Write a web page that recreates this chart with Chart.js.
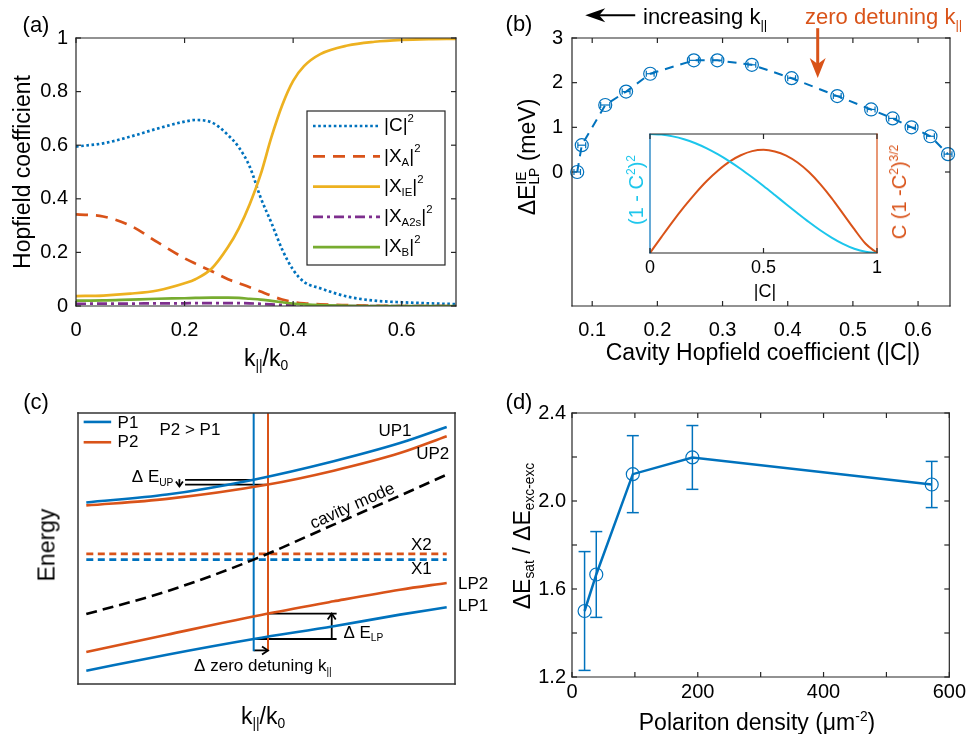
<!DOCTYPE html>
<html>
<head>
<meta charset="utf-8">
<title>Hopfield coefficients and polariton shifts</title>
<script src="https://cdn.jsdelivr.net/npm/chart.js@4.4.1/dist/chart.umd.min.js"></script>
<style>
  body { margin: 0; background: #fff; }
  #fig { position: relative; width: 969px; height: 734px; overflow: hidden;
         font-family: 'Liberation Sans', Arial, sans-serif; color: #000; }
  #fig canvas { position: absolute; }
  .t, .v, .l { position: absolute; white-space: nowrap; line-height: 1; }
  .t { transform: translate(-50%, -50%); }
  .l { transform: translate(0, -50%); }
  .v { transform: translate(-50%, -50%) rotate(-90deg); }
  sub, sup { font-size: 60%; line-height: 0; }
  sub { vertical-align: -0.35em; }
  sup { vertical-align: 0.65em; }
  .stk { display: inline-block; vertical-align: -0.3em; font-size: 60%; line-height: 0.95; }
  .stk span { display: block; }
</style>
</head>
<body>
<div id="fig">
  <canvas id="ca" width="480" height="372" style="left:0;top:0"></canvas>
  <canvas id="cb" width="489" height="372" style="left:480px;top:0"></canvas>
  <canvas id="cin" width="300" height="180" style="left:600px;top:120px"></canvas>
  <canvas id="cc" width="500" height="362" style="left:0;top:372px"></canvas>
  <canvas id="cd" width="489" height="362" style="left:480px;top:372px"></canvas>

  <!-- (a) -->
  <div class="t" style="left:36px;top:25px;font-size:22px">(a)</div>
  <div class="v" style="left:22px;top:172px;font-size:23px">Hopfield coefficient</div>
  <div class="t" style="left:266px;top:358px;font-size:23px">k<sub>||</sub>/k<sub>0</sub></div>

  <!-- (b) -->
  <div class="t" style="left:519px;top:24px;font-size:22px">(b)</div>
  <div class="l" style="left:643px;top:17px;font-size:22px">increasing k<sub>||</sub></div>
  <div class="l" style="left:805px;top:17px;font-size:22px;color:#D95319">zero detuning k<sub>||</sub></div>
  <div class="v" style="left:528px;top:157px;font-size:23px">ΔE<span class="stk"><span>IE</span><span>LP</span></span> (meV)</div>
  <div class="t" style="left:763px;top:352px;font-size:23px">Cavity Hopfield coefficient (|C|)</div>
  <div class="v" style="left:636px;top:190px;font-size:20px;color:#1CC6EC">(1 - C<sup>2</sup>)<sup>2</sup></div>
  <div class="v" style="left:899px;top:192px;font-size:20px;color:#D95319">C (1 -C<sup>2</sup>)<sup>3/2</sup></div>
  <div class="t" style="left:765px;top:291px;font-size:18px">|C|</div>

  <!-- (c) -->
  <div class="t" style="left:36px;top:402px;font-size:22px">(c)</div>
  <div class="v" style="left:47px;top:545px;font-size:23px">Energy</div>
  <div class="t" style="left:263px;top:716px;font-size:23px">k<sub>||</sub>/k<sub>0</sub></div>

  <!-- (d) -->
  <div class="t" style="left:519px;top:402px;font-size:22px">(d)</div>
  <div class="v" style="left:522px;top:536px;font-size:23px">ΔE<sub>sat</sub> / ΔE<sub>exc-exc</sub></div>
  <div class="t" style="left:757px;top:722px;font-size:23px">Polariton density (μm<sup>-2</sup>)</div>
</div>

<script>
// ---------- (a) Hopfield coefficients vs k||/k0 ----------
const kPar   = [0, 0.05, 0.10, 0.15, 0.20, 0.22, 0.25, 0.28, 0.30, 0.32, 0.34, 0.36, 0.38, 0.40, 0.42, 0.45, 0.50, 0.55, 0.60, 0.65, 0.70];
const cav2   = [0.595, 0.607, 0.632, 0.662, 0.688, 0.694, 0.685, 0.638, 0.592, 0.52, 0.405, 0.31, 0.21, 0.135, 0.09, 0.066, 0.035, 0.02, 0.014, 0.01, 0.007];
const exA2   = [0.342, 0.334, 0.30, 0.238, 0.178, 0.158, 0.13, 0.10, 0.085, 0.07, 0.054, 0.038, 0.024, 0.015, 0.01, 0.006, 0.003, 0.001, 0, 0, 0];
const exIE2  = [0.037, 0.039, 0.046, 0.058, 0.085, 0.10, 0.14, 0.22, 0.29, 0.38, 0.49, 0.63, 0.75, 0.84, 0.895, 0.94, 0.972, 0.986, 0.993, 0.996, 0.997];
const exA2s2 = [0.008, 0.009, 0.009, 0.01, 0.01, 0.011, 0.011, 0.011, 0.011, 0.01, 0.008, 0.006, 0.004, 0.003, 0.002, 0.001, 0, 0, 0, 0, 0];
const exB2   = [0.02, 0.021, 0.024, 0.027, 0.029, 0.03, 0.031, 0.031, 0.03, 0.027, 0.024, 0.019, 0.014, 0.009, 0.006, 0.003, 0.001, 0, 0, 0, 0];
const aTicksX = [0, 0.2, 0.4, 0.6], aLabelsX = ['0', '0.2', '0.4', '0.6'];
const aTicksY = [0, 0.2, 0.4, 0.6, 0.8, 1], aLabelsY = ['0', '0.2', '0.4', '0.6', '0.8', '1'];

// ---------- (b) LP shift vs cavity Hopfield coefficient ----------
const hopC     = [0.077, 0.084, 0.120, 0.152, 0.189, 0.256, 0.292, 0.345, 0.406, 0.476, 0.528, 0.561, 0.590, 0.619, 0.646];
const shiftLP  = [0, 0.6, 1.5, 1.8, 2.2, 2.5, 2.5, 2.4, 2.1, 1.7, 1.4, 1.2, 1.0, 0.8, 0.4];
const hopCErr  = [0.005, 0.006, 0.007, 0.006, 0.006, 0.007, 0.007, 0.006, 0.006, 0.006, 0.006, 0.006, 0.006, 0.006, 0.006];
const bTicksX = [0.1, 0.2, 0.3, 0.4, 0.5, 0.6], bLabelsX = ['0.1', '0.2', '0.3', '0.4', '0.5', '0.6'];
const bTicksY = [0, 1, 2, 3], bLabelsY = ['0', '1', '2', '3'];

// inset
const insC     = [0, 0.05, 0.10, 0.15, 0.20, 0.25, 0.30, 0.35, 0.40, 0.45, 0.50, 0.55, 0.60, 0.65, 0.70, 0.75, 0.80, 0.85, 0.90, 0.95, 1];
const insExc   = [1, 0.995, 0.980, 0.956, 0.922, 0.879, 0.828, 0.770, 0.706, 0.636, 0.563, 0.487, 0.410, 0.334, 0.260, 0.191, 0.130, 0.077, 0.036, 0.010, 0];
const insMix   = [0, 0.050, 0.099, 0.145, 0.188, 0.227, 0.260, 0.288, 0.308, 0.321, 0.325, 0.320, 0.307, 0.285, 0.255, 0.217, 0.173, 0.124, 0.075, 0.029, 0];
const insTicksX = [0, 0.5, 1], insLabelsX = ['0', '0.5', '1'];

// ---------- (c) schematic dispersions (arbitrary units) ----------
const kP1 = [0.22, 2.36, 4.66, 6.78, 8.54, 9.78];
const kP2 = [0.22, 2.36, 5.04, 6.78, 8.54, 9.78];
const up1 = [6.70, 6.99, 7.54, 8.22, 8.89, 9.48];
const up2 = [6.59, 6.83, 7.36, 7.87, 8.52, 9.14];
const lp1 = [0.49, 1.08, 1.66, 2.13, 2.56, 2.83];
const lp2 = [1.18, 1.82, 2.60, 3.05, 3.48, 3.73];
const kCav = [0.22, 2.36, 4.66, 6.78, 8.54, 9.82];
const cavMode = [2.58, 3.42, 4.59, 5.88, 6.95, 7.75];
const kEx = [0.22, 9.78];
const ex1 = 4.59, ex2 = 4.80;
const kZero1 = 4.66, kZero2 = 5.04;
const eRange = [1.21, 10];

// ---------- (d) saturation ratio vs density ----------
const density = [20, 38.6, 96.7, 191.4, 572];
const ratio   = [1.50, 1.666, 2.122, 2.198, 2.075];
const ratioErr = [0.27, 0.195, 0.175, 0.145, 0.105];
const dTicksX = [0, 100, 200, 300, 400, 500, 600], dLabelsX = ['0', '', '200', '', '400', '', '600'];
const dTicksY = [1.2, 1.4, 1.6, 1.8, 2.0, 2.2, 2.4], dLabelsY = ['1.2', '', '1.6', '', '2.0', '', '2.4'];

const BLUE = '#0072BD', ORANGE = '#D95319', YELLOW = '#EDB120', PURPLE = '#7E2F8E',
      GREEN = '#77AC30', CYAN = '#1CC6EC', AX = '#262626';
const FAM = "'Liberation Sans', Arial, sans-serif";

Chart.defaults.font.family = FAM;
Chart.defaults.color = '#000';

const xy = (xs, ys) => xs.map((x, i) => ({ x, y: Array.isArray(ys) ? ys[i] : ys }));

function seg(ctx, x1, y1, x2, y2) {
  ctx.beginPath(); ctx.moveTo(x1, y1); ctx.lineTo(x2, y2); ctx.stroke();
}

// text with sub ('b') and superscript ('p') pieces
function rich(ctx, parts, x, y, size, align, color) {
  ctx.save();
  ctx.fillStyle = color || '#000';
  ctx.textBaseline = 'middle';
  ctx.textAlign = 'left';
  let w = 0;
  const items = parts.map(p => {
    const s = p[1] ? size * 0.6 : size;
    ctx.font = s + 'px ' + FAM;
    const m = ctx.measureText(p[0]).width;
    w += m;
    return { t: p[0], s, m, dy: p[1] === 'b' ? size * 0.32 : p[1] === 'p' ? -size * 0.38 : 0 };
  });
  let cx = align === 'center' ? x - w / 2 : align === 'right' ? x - w : x;
  items.forEach(it => { ctx.font = it.s + 'px ' + FAM; ctx.fillText(it.t, cx, y + it.dy); cx += it.m; });
  ctx.restore();
}

// axis box keeps a fixed thickness so the plot area lands where it should
function axis(min, max, ticks, labels, pad, size, pos, thick) {
  return {
    type: 'linear', position: pos, min, max,
    grid: { display: false, drawTicks: false }, border: { display: false },
    afterBuildTicks: s => { s.ticks = ticks.map(v => ({ value: v })); },
    afterFit: s => { if (s.isHorizontal()) s.height = thick; else s.width = thick; },
    ticks: { padding: pad, font: { size }, color: '#000', autoSkip: false, maxRotation: 0,
             callback: (v, i) => labels[i] }
  };
}
function hidden(min, max, pos) {
  return { type: 'linear', display: false, min, max, position: pos };
}
// a = [left, top, right, bottom]; axL / axB = thickness given to the left / bottom axis
function lay(w, h, a, axL, axB) {
  return { padding: { left: a[0] - axL, top: a[1], right: w - a[2], bottom: h - a[3] - axB } };
}
function opts(extra) {
  return Object.assign({
    responsive: false, animation: false, events: [],
    plugins: { legend: { display: false }, tooltip: { enabled: false } },
    elements: { point: { radius: 0 }, line: { tension: 0.4, cubicInterpolationMode: 'monotone', fill: false } }
  }, extra);
}

function makeFrame(cfg) {
  return { id: 'frame', afterDatasetsDraw(chart) {
    const { ctx, chartArea: a } = chart;
    const L = cfg.tick || 0, col = cfg.color || AX, s = cfg.sides || {};
    ctx.save();
    ctx.lineWidth = cfg.width || 1.2; ctx.setLineDash([]); ctx.lineCap = 'square';
    ctx.strokeStyle = s.top || col;    seg(ctx, a.left, a.top, a.right, a.top);
    ctx.strokeStyle = s.bottom || col; seg(ctx, a.left, a.bottom, a.right, a.bottom);
    ctx.strokeStyle = s.left || col;   seg(ctx, a.left, a.top, a.left, a.bottom);
    ctx.strokeStyle = s.right || col;  seg(ctx, a.right, a.top, a.right, a.bottom);
    ctx.strokeStyle = col; ctx.lineCap = 'butt';
    if (L && cfg.xt) cfg.xt.forEach(v => {
      const p = chart.scales.x.getPixelForValue(v);
      seg(ctx, p, a.bottom, p, a.bottom - L); seg(ctx, p, a.top, p, a.top + L);
    });
    if (L && cfg.yt) cfg.yt.forEach(v => {
      const p = chart.scales.y.getPixelForValue(v);
      seg(ctx, a.left, p, a.left + L, p); seg(ctx, a.right, p, a.right - L, p);
    });
    ctx.restore();
  } };
}

function makeErr(xs, ys, xerr, yerr, cap, color, width) {
  return { id: 'errbars', afterDatasetsDraw(chart) {
    const { ctx } = chart, sx = chart.scales.x, sy = chart.scales.y;
    ctx.save(); ctx.strokeStyle = color; ctx.lineWidth = width; ctx.setLineDash([]);
    xs.forEach((xv, i) => {
      const px = sx.getPixelForValue(xv), py = sy.getPixelForValue(ys[i]);
      if (yerr) {
        const t = sy.getPixelForValue(ys[i] + yerr[i]), b = sy.getPixelForValue(ys[i] - yerr[i]);
        seg(ctx, px, t, px, b); seg(ctx, px - cap, t, px + cap, t); seg(ctx, px - cap, b, px + cap, b);
      }
      if (xerr) {
        const l = sx.getPixelForValue(xv - xerr[i]), r = sx.getPixelForValue(xv + xerr[i]);
        seg(ctx, l, py, r, py); seg(ctx, l, py - cap, l, py + cap); seg(ctx, r, py - cap, r, py + cap);
      }
    });
    ctx.restore();
  } };
}

// filled arrow head with a notch, tip at (x,y), pointing along ang
function headFilled(ctx, x, y, ang, len, half, color) {
  ctx.save(); ctx.translate(x, y); ctx.rotate(ang); ctx.fillStyle = color;
  ctx.beginPath(); ctx.moveTo(0, 0); ctx.lineTo(-len, -half); ctx.lineTo(-len * 0.7, 0); ctx.lineTo(-len, half);
  ctx.closePath(); ctx.fill(); ctx.restore();
}
function headOpen(ctx, x, y, ang, len, half) {
  ctx.save(); ctx.translate(x, y); ctx.rotate(ang);
  ctx.beginPath(); ctx.moveTo(-len, -half); ctx.lineTo(0, 0); ctx.lineTo(-len, half); ctx.stroke();
  ctx.restore();
}

// ================= (a) =================
const legendA = [
  [['|C|', ''], ['2', 'p']],
  [['|X', ''], ['A', 'b'], ['|', ''], ['2', 'p']],
  [['|X', ''], ['IE', 'b'], ['|', ''], ['2', 'p']],
  [['|X', ''], ['A2s', 'b'], ['|', ''], ['2', 'p']],
  [['|X', ''], ['B', 'b'], ['|', ''], ['2', 'p']]
];
const legendPluginA = { id: 'legendA', afterDatasetsDraw(chart) {
  const { ctx, chartArea: a } = chart;
  const L = a.right - 149, T = a.top + 73, W = 138, H = 154;
  ctx.save();
  ctx.fillStyle = '#fff'; ctx.fillRect(L, T, W, H);
  ctx.strokeStyle = AX; ctx.lineWidth = 1.2; ctx.strokeRect(L, T, W, H);
  chart.data.datasets.forEach((ds, i) => {
    const y = T + 15 + i * 30.3;
    ctx.strokeStyle = ds.borderColor; ctx.lineWidth = ds.borderWidth;
    ctx.setLineDash(ds.borderDash || []);
    seg(ctx, L + 6, y, L + 73, y);
    ctx.setLineDash([]);
    rich(ctx, legendA[i], L + 77, y, 19, 'left');
  });
  ctx.restore();
} };

const aSeries = [
  { d: cav2, c: BLUE, dash: [2.6, 2.6] },
  { d: exA2, c: ORANGE, dash: [12, 8] },
  { d: exIE2, c: YELLOW, dash: [] },
  { d: exA2s2, c: PURPLE, dash: [10, 4, 3, 4] },
  { d: exB2, c: GREEN, dash: [] }
];
new Chart(document.getElementById('ca'), {
  type: 'line',
  data: { datasets: aSeries.map((s, i) => ({
    data: xy(kPar, s.d), borderColor: s.c, borderDash: s.dash, borderWidth: 2.7, order: -i
  })) },
  options: opts({
    layout: lay(480, 372, [76, 38, 456, 306], 70, 40),
    scales: {
      x: axis(0, 0.7, aTicksX, aLabelsX, 12, 20, 'bottom', 40),
      y: axis(0, 1, aTicksY, aLabelsY, 8, 20, 'left', 70)
    }
  }),
  plugins: [makeFrame({ tick: 5, xt: aTicksX, yt: aTicksY }), legendPluginA]
});

// ================= (b) =================
const arrowsB = { id: 'arrowsB', afterDraw(chart) {
  const { ctx } = chart, sx = chart.scales.x, sy = chart.scales.y;
  ctx.save();
  // "increasing k" arrow
  const y0 = sy.getPixelForValue(3.51), xa = sx.getPixelForValue(0.0893), xb = sx.getPixelForValue(0.166);
  ctx.strokeStyle = '#000'; ctx.lineWidth = 2;
  seg(ctx, xa + 12, y0, xb, y0);
  headFilled(ctx, xa, y0, Math.PI, 20, 7, '#000');
  // zero detuning arrow
  const xo = sx.getPixelForValue(0.446), yt = sy.getPixelForValue(3.22), yb = sy.getPixelForValue(2.105);
  ctx.strokeStyle = ORANGE; ctx.lineWidth = 3;
  seg(ctx, xo, yt, xo, yb - 14);
  headFilled(ctx, xo, yb, Math.PI / 2, 20, 8, ORANGE);
  ctx.restore();
} };

new Chart(document.getElementById('cb'), {
  type: 'line',
  data: { datasets: [{
    data: xy(hopC, shiftLP), borderColor: BLUE, borderDash: [9, 7], borderWidth: 2,
    tension: 0, cubicInterpolationMode: 'default',
    pointRadius: 6.5, pointStyle: 'circle', pointBorderColor: BLUE, pointBackgroundColor: 'rgba(0,0,0,0)',
    pointBorderWidth: 1.2, clip: false
  }] },
  options: opts({
    layout: lay(489, 372, [92, 38, 470, 306], 40, 40),
    scales: {
      x: axis(0.069, 0.649, bTicksX, bLabelsX, 12, 20, 'bottom', 40),
      y: axis(-3, 3, bTicksY, bLabelsY, 9, 20, 'left', 40)
    }
  }),
  plugins: [makeFrame({ tick: 5, xt: bTicksX, yt: bTicksY }), makeErr(hopC, shiftLP, hopCErr, null, 3, BLUE, 1.2), arrowsB]
});

// inset
new Chart(document.getElementById('cin'), {
  type: 'line',
  data: { datasets: [
    { data: xy(insC, insExc), borderColor: CYAN, borderWidth: 2, yAxisID: 'y' },
    { data: xy(insC, insMix), borderColor: ORANGE, borderWidth: 2, yAxisID: 'y2' }
  ] },
  options: opts({
    layout: lay(300, 180, [50, 14, 277, 133], 0, 30),
    scales: {
      x: axis(0, 1, insTicksX, insLabelsX, 4, 18, 'bottom', 30),
      y: hidden(0, 1, 'left'),
      y2: hidden(0, 0.375, 'right')
    }
  }),
  plugins: [
    { id: 'bg', beforeDatasetsDraw(chart) {
      const a = chart.chartArea; chart.ctx.save(); chart.ctx.fillStyle = '#fff';
      chart.ctx.fillRect(a.left, a.top, a.right - a.left, a.bottom - a.top); chart.ctx.restore();
    } },
    makeFrame({ tick: 5, xt: insTicksX, sides: { left: BLUE, right: ORANGE } })
  ]
});

// ================= (c) =================
const annC = { id: 'annC', afterDatasetsDraw(chart) {
  const { ctx } = chart, sx = chart.scales.x, sy = chart.scales.y;
  const X = v => sx.getPixelForValue(v), Y = v => sy.getPixelForValue(v);
  ctx.save();
  // legend samples
  ctx.lineWidth = 2.6;
  ctx.strokeStyle = BLUE;   seg(ctx, X(0.15), Y(9.67), X(0.88), Y(9.67));
  ctx.strokeStyle = ORANGE; seg(ctx, X(0.15), Y(8.92), X(0.88), Y(8.92));
  // arrow heads
  ctx.strokeStyle = '#000'; ctx.lineWidth = 1.8;
  headOpen(ctx, X(2.69), Y(7.29), Math.PI / 2, 5, 3.5);
  headOpen(ctx, X(6.73), Y(2.60), -Math.PI / 2, 6, 4);
  headOpen(ctx, X(kZero2), Y(1.24), 0, 6, 4);
  // labels
  const lab = [
    [1.05, 9.63, [['P1', '']], 'left'],
    [1.05, 8.92, [['P2', '']], 'left'],
    [2.16, 9.36, [['P2 > P1', '']], 'left'],
    [7.97, 9.32, [['UP1', '']], 'left'],
    [8.97, 8.46, [['UP2', '']], 'left'],
    [8.83, 5.10, [['X2', '']], 'left'],
    [8.83, 4.22, [['X1', '']], 'left'],
    [10.0, 3.67, [['LP2', '']], 'left'],
    [10.0, 2.87, [['LP1', '']], 'left'],
    [2.53, 7.61, [['Δ E', ''], ['UP', 'b']], 'right'],
    [7.04, 1.88, [['Δ E', ''], ['LP', 'b']], 'left'],
    [3.08, 0.65, [['Δ zero detuning k', ''], ['||', 'b']], 'left']
  ];
  lab.forEach(l => rich(ctx, l[2], X(l[0]) + (l[0] >= 10 ? 3 : 0), Y(l[1]), 17, l[3]));
  ctx.translate(X(7.28), Y(6.56)); ctx.rotate(-24 * Math.PI / 180);
  rich(ctx, [['cavity mode', '']], 0, 0, 17, 'center');
  ctx.restore();
} };

const lineC = (xs, ys, color, width, dash) => ({
  data: xy(xs, ys), borderColor: color, borderWidth: width, borderDash: dash || [], tension: 0.4
});
new Chart(document.getElementById('cc'), {
  type: 'line',
  data: { datasets: [
    lineC(kP1, up1, BLUE, 2.6),
    lineC(kP2, up2, ORANGE, 2.6),
    lineC(kP1, lp1, BLUE, 2.6),
    lineC(kP2, lp2, ORANGE, 2.6),
    lineC(kCav, cavMode, '#000', 2.6, [11, 6]),
    lineC(kEx, ex2, ORANGE, 2.6, [7, 4.5]),
    lineC(kEx, ex1, BLUE, 2.6, [7, 4.5]),
    lineC([kZero1, kZero1], eRange, BLUE, 2),
    lineC([kZero2, kZero2], eRange, ORANGE, 2),
    lineC([2.84, kZero1], 7.53, '#000', 1.8),
    lineC([2.84, kZero2], 7.36, '#000', 1.8),
    lineC([2.69, 2.69], [7.56, 7.30], '#000', 1.8),
    lineC([kZero2, 6.86], 2.60, '#000', 1.8),
    lineC([kZero1, 6.86], 1.66, '#000', 1.8),
    lineC([6.73, 6.73], [1.66, 2.58], '#000', 1.8),
    lineC([kZero1, kZero2 - 0.02], 1.24, '#000', 1.8)
  ] },
  options: opts({
    layout: lay(500, 362, [78, 41, 455, 312], 0, 0),
    scales: { x: hidden(0, 10, 'bottom'), y: hidden(0, 10, 'left') }
  }),
  plugins: [makeFrame({ color: '#333', width: 1.5 }), annC]
});

// ================= (d) =================
new Chart(document.getElementById('cd'), {
  type: 'line',
  data: { datasets: [{
    data: xy(density, ratio), borderColor: BLUE, borderWidth: 2.5,
    tension: 0, cubicInterpolationMode: 'default',
    pointRadius: 6.5, pointStyle: 'circle', pointBorderColor: BLUE, pointBackgroundColor: 'rgba(0,0,0,0)',
    pointBorderWidth: 1.2, clip: false
  }] },
  options: opts({
    layout: lay(489, 362, [92, 41, 470, 305], 40, 40),
    scales: {
      x: axis(0, 600, dTicksX, dLabelsX, 3, 20, 'bottom', 40),
      y: axis(1.2, 2.4, dTicksY, dLabelsY, 6, 20, 'left', 40)
    }
  }),
  plugins: [makeFrame({ tick: 5, xt: dTicksX, yt: dTicksY }), makeErr(density, ratio, null, ratioErr, 6, BLUE, 1.5)]
});
</script>
</body>
</html>
